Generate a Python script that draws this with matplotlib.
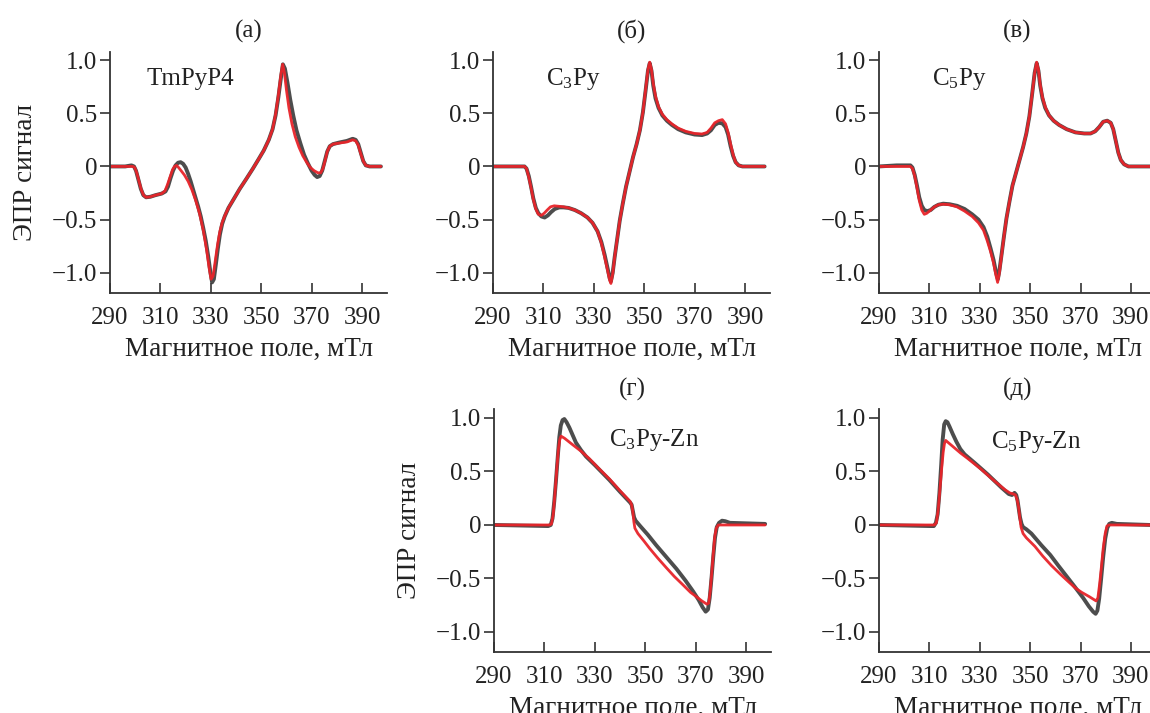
import matplotlib
matplotlib.use("Agg")
import matplotlib.pyplot as plt

plt.rcParams['font.family'] = ['Liberation Serif', 'DejaVu Serif']
plt.rcParams['mathtext.default'] = 'regular'

# field (mT) and normalised signal: black = experiment, red = simulation
tmpyp4_field_exp = [290, 296, 298.5, 299.5, 300.3, 301.2, 302.2, 303.2, 304.3, 306, 308, 310.5, 312, 313, 314,
                    315, 316, 317, 318, 319, 320, 321, 322, 323, 324, 325, 326, 327, 328, 329, 329.8, 330.5,
                    331.2, 332, 332.8, 333.6, 334.5, 335.5, 337, 339, 341.5, 344, 346.7, 349, 351, 353, 354.5,
                    355.7, 356.8, 357.8, 358.6, 359.4, 360.4, 361.5, 362.7, 364, 365.5, 367, 368.5, 370,
                    371.2, 372.2, 373.2, 374.2, 375.2, 376.2, 377.2, 378.5, 381, 384, 386.3, 387.5, 388.5,
                    389.5, 390.5, 391.5, 393, 397.5]
tmpyp4_signal_exp = [0, 0, 0.01, 0.0, -0.04, -0.12, -0.21, -0.27, -0.29, -0.285, -0.27, -0.255, -0.235, -0.19, -0.11,
                     -0.04, 0.01, 0.035, 0.04, 0.025, -0.01, -0.07, -0.14, -0.22, -0.30, -0.38, -0.47, -0.58, -0.70, -0.85, -0.99, -1.09,
                     -1.06, -0.92, -0.77, -0.64, -0.54, -0.47, -0.39, -0.31, -0.21, -0.12, -0.02, 0.07, 0.15, 0.25, 0.35,
                     0.48, 0.65, 0.83, 0.96, 0.92, 0.79, 0.63, 0.48, 0.34, 0.22, 0.11, 0.03, -0.04,
                     -0.08, -0.10, -0.09, -0.04, 0.05, 0.14, 0.19, 0.21, 0.225, 0.24, 0.26, 0.25, 0.21,
                     0.13, 0.05, 0.01, 0.0, 0.0]
tmpyp4_field_fit = [290, 299, 299.8, 300.6, 301.5, 302.4, 303.3, 304.3, 306, 308, 310.5, 311.8, 312.8, 313.8,
                    314.8, 315.6, 316.4, 317.2, 318.2, 319.5, 321, 322.5, 324, 325.5, 327, 328.3, 329.3, 330.1,
                    330.9, 331.8, 332.7, 333.6, 334.6, 335.8, 337.2, 339, 341.5, 344, 346.7, 349, 351, 353,
                    354.5, 355.7, 356.8, 357.8, 358.5, 359.2, 360, 361, 362.2, 363.5, 365, 366.5, 368, 369.5,
                    371, 372.5, 373.6, 374.5, 375.3, 376.2, 377.2, 378.5, 381, 384, 386.3, 387.5, 388.5, 389.5,
                    390.5, 391.5, 393, 397.5]
tmpyp4_signal_fit = [0, 0, -0.01, -0.06, -0.14, -0.22, -0.27, -0.29, -0.285, -0.27, -0.255, -0.23, -0.17, -0.10,
                     -0.03, 0.0, 0.01, -0.01, -0.04, -0.08, -0.14, -0.22, -0.32, -0.44, -0.60, -0.78, -0.95, -1.06,
                     -1.03, -0.88, -0.73, -0.61, -0.52, -0.45, -0.38, -0.31, -0.21, -0.12, -0.02, 0.07, 0.15, 0.25,
                     0.35, 0.49, 0.67, 0.86, 0.96, 0.88, 0.72, 0.55, 0.40, 0.28, 0.18, 0.10, 0.04, -0.01,
                     -0.04, -0.06, -0.06, -0.02, 0.05, 0.14, 0.19, 0.21, 0.22, 0.23, 0.25, 0.24, 0.20, 0.12,
                     0.05, 0.01, 0.0, 0.0]

c3py_field_exp = [290, 302.5, 303.3, 304.2, 305.1, 306, 307, 308, 309.2, 310.5, 311.8, 313, 314.5, 316.3, 318,
                  320, 322.5, 325, 327.5, 329.5, 331.5, 333, 334.3, 335.5, 336.3, 336.8, 337.5, 338.3, 339.3,
                  340.3, 341.5, 342.8, 344.2, 345.6, 347, 348.3, 349.5, 350.6, 351.5, 352.2, 352.9, 353.6,
                  354.5, 355.7, 357.2, 359, 361, 363.5, 366.5, 370, 373, 375, 376.5, 378, 379.5, 381, 382.3,
                  383.3, 384.3, 385.3, 386.3, 387.5, 389, 397.8]
c3py_signal_exp = [0, 0, -0.02, -0.09, -0.19, -0.30, -0.39, -0.44, -0.47, -0.48, -0.46, -0.43, -0.40, -0.385, -0.385,
                   -0.39, -0.41, -0.44, -0.48, -0.53, -0.61, -0.71, -0.83, -0.96, -1.05, -1.08, -1.0, -0.85, -0.68,
                   -0.51, -0.35, -0.19, -0.05, 0.09, 0.21, 0.34, 0.51, 0.72, 0.90, 0.97, 0.90, 0.76,
                   0.64, 0.55, 0.48, 0.43, 0.39, 0.35, 0.32, 0.30, 0.295, 0.31, 0.34, 0.39, 0.41, 0.405, 0.37,
                   0.30, 0.19, 0.10, 0.04, 0.01, 0.0, 0.0]
c3py_field_fit = [290, 302.5, 303.3, 304.2, 305.1, 306, 307, 308, 309.2, 310.3, 311.5, 312.8, 314.3, 316.3, 318,
                  320, 322.5, 325, 327.5, 329.5, 331.5, 333, 334.3, 335.5, 336.3, 336.8, 337.5, 338.3, 339.3,
                  340.3, 341.5, 342.8, 344.2, 345.6, 347, 348.3, 349.5, 350.6, 351.5, 352.2, 352.9, 353.6,
                  354.5, 355.7, 357.2, 359, 361, 363.5, 366.5, 370, 373, 375, 376.5, 378, 379.5, 381, 382.3,
                  383.3, 384.3, 385.3, 386.3, 387.5, 389, 397.8]
c3py_signal_fit = [0, 0, -0.02, -0.10, -0.20, -0.31, -0.40, -0.45, -0.46, -0.44, -0.41, -0.38, -0.37, -0.375, -0.38,
                   -0.39, -0.41, -0.44, -0.48, -0.53, -0.61, -0.72, -0.85, -0.98, -1.07, -1.10, -1.01, -0.85, -0.68,
                   -0.51, -0.35, -0.19, -0.05, 0.09, 0.21, 0.34, 0.51, 0.73, 0.91, 0.98, 0.91, 0.78,
                   0.66, 0.56, 0.49, 0.44, 0.40, 0.36, 0.33, 0.31, 0.305, 0.32, 0.36, 0.41, 0.43, 0.44, 0.40,
                   0.32, 0.21, 0.11, 0.04, 0.01, 0.0, 0.0]

c5py_field_exp = [290, 297, 302.5, 303.3, 304.2, 305.1, 306, 307, 308, 309.2, 310.5, 312, 313.6, 315.5, 318,
                  321, 324, 327, 329.5, 331.5, 333, 334.3, 335.5, 336.5, 337.2, 337.8, 338.6, 339.6, 340.6,
                  341.8, 343, 344.4, 345.8, 347.2, 348.5, 349.7, 350.8, 351.8, 352.6, 353.3, 354, 354.9, 356,
                  357.5, 359.3, 361.5, 364.5, 368, 371.5, 374, 375.8, 377.4, 379, 380.6, 382, 383, 384, 385,
                  386, 387.3, 389, 397.8]
c5py_signal_exp = [0, 0.01, 0.01, -0.01, -0.08, -0.18, -0.29, -0.37, -0.41, -0.42, -0.41, -0.38, -0.36, -0.35, -0.355,
                   -0.37, -0.40, -0.45, -0.50, -0.57, -0.66, -0.77, -0.88, -1.0, -1.06, -0.98, -0.84, -0.66, -0.49,
                   -0.33, -0.18, -0.06, 0.06, 0.18, 0.31, 0.47, 0.68, 0.88, 0.97, 0.90, 0.76, 0.64, 0.55,
                   0.48, 0.43, 0.39, 0.35, 0.32, 0.31, 0.31, 0.33, 0.37, 0.42, 0.43, 0.41, 0.35, 0.24, 0.13,
                   0.06, 0.02, 0.0, 0.0]
c5py_field_fit = [290, 302.5, 303.3, 304.2, 305.1, 306, 307, 308, 309, 310.5, 312, 313.6, 315.5, 318, 321,
                  324, 327, 329.5, 331.5, 333, 334.3, 335.5, 336.4, 337.1, 337.8, 338.6, 339.6, 340.6, 341.8,
                  343, 344.4, 345.8, 347.2, 348.5, 349.7, 350.8, 351.8, 352.6, 353.3, 354, 354.9, 356, 357.5,
                  359.3, 361.5, 364.5, 368, 371.5, 374, 375.8, 377.4, 379, 380.6, 382, 383, 384, 385, 386,
                  387.3, 389, 397.8]
c5py_signal_fit = [0, 0, -0.02, -0.09, -0.20, -0.32, -0.41, -0.45, -0.44, -0.41, -0.38, -0.36, -0.355, -0.36, -0.38,
                   -0.42, -0.47, -0.53, -0.60, -0.70, -0.80, -0.91, -1.02, -1.09, -1.0, -0.85, -0.66, -0.49, -0.33,
                   -0.18, -0.06, 0.06, 0.18, 0.31, 0.47, 0.68, 0.88, 0.98, 0.91, 0.77, 0.65, 0.56, 0.48,
                   0.43, 0.39, 0.35, 0.32, 0.31, 0.31, 0.33, 0.37, 0.42, 0.43, 0.41, 0.35, 0.24, 0.13, 0.06,
                   0.02, 0.0, 0.0]

c3pyzn_field_exp = [290, 311.5, 312.5, 313.2, 313.9, 314.6, 315.3, 315.9, 316.5, 317.2, 317.9, 318.8, 319.9,
                    321.2, 322.5, 324.5, 326.5, 330, 335.8, 340, 344, 344.6, 345.1, 345.6, 346.2, 348, 351,
                    354.4, 358.4, 362.4, 366, 369, 371.2, 372.8, 374, 374.9, 375.6, 376.3, 377, 377.7, 378.4,
                    379.3, 380.5, 381.8, 383.6, 397.6]
c3pyzn_signal_exp = [0, -0.01, 0.0, 0.06, 0.22, 0.42, 0.64, 0.82, 0.93, 0.98, 0.99, 0.96, 0.91,
                     0.84, 0.77, 0.70, 0.64, 0.56, 0.42, 0.31, 0.21, 0.19, 0.13, 0.07, 0.04, -0.01, -0.09,
                     -0.19, -0.30, -0.41, -0.52, -0.62, -0.70, -0.77, -0.81, -0.79, -0.68, -0.50, -0.30, -0.12, -0.02,
                     0.02, 0.04, 0.035, 0.02, 0.01]
c3pyzn_field_fit = [290, 312, 312.8, 313.5, 314.2, 314.9, 315.5, 316.1, 316.6, 318, 321.2, 324.5, 327.8, 331.5,
                    335.8, 340, 344, 344.6, 345.1, 345.5, 345.9, 347.1, 349.5, 351.8, 355, 358.4, 361.5, 365,
                    368, 370.3, 372.5, 374.5, 375.2, 375.8, 376.4, 377, 377.6, 378.2, 379, 380.5, 397.6]
c3pyzn_signal_fit = [0, 0, 0.01, 0.10, 0.30, 0.52, 0.70, 0.80, 0.83, 0.81, 0.75, 0.69, 0.62, 0.53,
                     0.43, 0.32, 0.22, 0.19, 0.12, 0.03, -0.03, -0.08, -0.15, -0.22, -0.31, -0.40, -0.48, -0.56,
                     -0.63, -0.67, -0.71, -0.74, -0.73, -0.62, -0.45, -0.27, -0.11, -0.03, 0.0, 0.0, 0.0]

c5pyzn_field_exp = [290, 310.5, 311.8, 312.6, 313.3, 314, 314.7, 315.3, 315.9, 316.5, 317.2, 318, 319.3, 320.7,
                    322.3, 324, 328, 333.3, 338.6, 341.5, 342.8, 343.8, 344.5, 345, 345.5, 346, 346.6, 347.2,
                    348.5, 350.5, 354.5, 358, 361.2, 364.5, 367.8, 371, 373.3, 375, 376, 376.7, 377.4, 378.2,
                    379, 379.8, 380.6, 381.4, 382.4, 384.4, 397.7]
c5pyzn_signal_exp = [0, -0.01, -0.01, 0.02, 0.10, 0.30, 0.56, 0.80, 0.94, 0.97, 0.96, 0.92, 0.85, 0.78,
                     0.71, 0.66, 0.58, 0.47, 0.35, 0.29, 0.28, 0.30, 0.28, 0.23, 0.15, 0.07, 0.01, -0.02,
                     -0.04, -0.08, -0.19, -0.28, -0.38, -0.48, -0.58, -0.68, -0.76, -0.81, -0.83, -0.80, -0.69, -0.50,
                     -0.30, -0.13, -0.03, 0.01, 0.02, 0.01, 0.0]
c5pyzn_field_fit = [290, 312, 312.8, 313.5, 314.2, 314.9, 315.5, 316, 316.5, 318, 320, 322.5, 325.3, 330.6,
                    335.9, 340, 341.9, 343.3, 344.2, 344.8, 345.4, 345.9, 346.4, 347.2, 348.5, 351.9, 355, 358.5,
                    362, 365.2, 368, 370.5, 373.5, 376.2, 376.9, 377.6, 378.3, 379, 379.8, 380.5, 381.3, 397.7]
c5pyzn_signal_fit = [0, 0, 0.02, 0.14, 0.33, 0.53, 0.68, 0.76, 0.79, 0.76, 0.72, 0.67, 0.62, 0.52,
                     0.41, 0.33, 0.30, 0.29, 0.28, 0.24, 0.17, 0.07, -0.02, -0.08, -0.12, -0.20, -0.29, -0.38,
                     -0.46, -0.53, -0.59, -0.63, -0.67, -0.71, -0.68, -0.55, -0.39, -0.22, -0.08, -0.01, 0.0, 0.0]

x_ticks = [290, 310, 330, 350, 370, 390]
y_ticks = [-1.0, -0.5, 0, 0.5, 1.0]
y_tick_labels = ['\u22121.0', '\u22120.5', '0', '0.5', '1.0']
xlabel = 'Магнитное поле, мТл'
ylabel = 'ЭПР сигнал'

fig = plt.figure(figsize=(11.5, 7.13), dpi=100)

W = 0.241
top_b, top_h = 0.589, 0.3387
bot_b, bot_h = 0.0851, 0.3407

panels = [
    ([0.0957, top_b, W, top_h], '(а)', 'TmPyP4', (304.5, 0.82),
     tmpyp4_field_exp, tmpyp4_signal_exp, tmpyp4_field_fit, tmpyp4_signal_fit, True),
    ([0.4287, top_b, W, top_h], '(б)', 'C$_3$Py', (311.0, 0.82),
     c3py_field_exp, c3py_signal_exp, c3py_field_fit, c3py_signal_fit, False),
    ([0.7643, top_b, W, top_h], '(в)', 'C$_5$Py', (311.0, 0.82),
     c5py_field_exp, c5py_signal_exp, c5py_field_fit, c5py_signal_fit, False),
    ([0.4296, bot_b, W, bot_h], '(г)', 'C$_3$Py-Zn', (335.5, 0.79),
     c3pyzn_field_exp, c3pyzn_signal_exp, c3pyzn_field_fit, c3pyzn_signal_fit, True),
    ([0.7643, bot_b, W, bot_h], '(д)', 'C$_5$Py-Zn', (334.5, 0.78),
     c5pyzn_field_exp, c5pyzn_signal_exp, c5pyzn_field_fit, c5pyzn_signal_fit, False),
]

for rect, title, name, name_xy, bx, sx, bf, sf, with_ylabel in panels:
    ax = fig.add_axes(rect)
    ax.plot(bx, sx, color='#3a3a3a', lw=2.8, alpha=0.9, solid_capstyle='round', solid_joinstyle='round')
    ax.plot(bf, sf, color='#e8242a', lw=2.0, alpha=0.95, solid_capstyle='round', solid_joinstyle='round')
    ax.set_xlim(290, 400)
    ax.set_ylim(-1.19, 1.08)
    for side in ('top', 'right'):
        ax.spines[side].set_visible(False)
    for side in ('left', 'bottom'):
        ax.spines[side].set_color('#333333')
        ax.spines[side].set_linewidth(1.3)
    ax.set_xticks(x_ticks)
    ax.set_yticks(y_ticks)
    ax.set_yticklabels(y_tick_labels)
    ax.tick_params(axis='x', direction='in', length=7, width=1.2, color='#333333',
                   labelsize=18, pad=10, labelcolor='#222222')
    ax.tick_params(axis='y', direction='out', length=7, width=1.2, color='#333333',
                   labelsize=18, pad=2, labelcolor='#222222')
    ax.set_xlabel(xlabel, fontsize=19.5, color='#222222', labelpad=5.5)
    if with_ylabel:
        ax.set_ylabel(ylabel, fontsize=19.5, color='#222222', labelpad=10)
    ax.set_title(title, fontsize=18, color='#222222', pad=10)
    ax.text(name_xy[0], name_xy[1], name, fontsize=18, color='#222222', va='center', ha='left')

fig.savefig('out.png', dpi=100)
